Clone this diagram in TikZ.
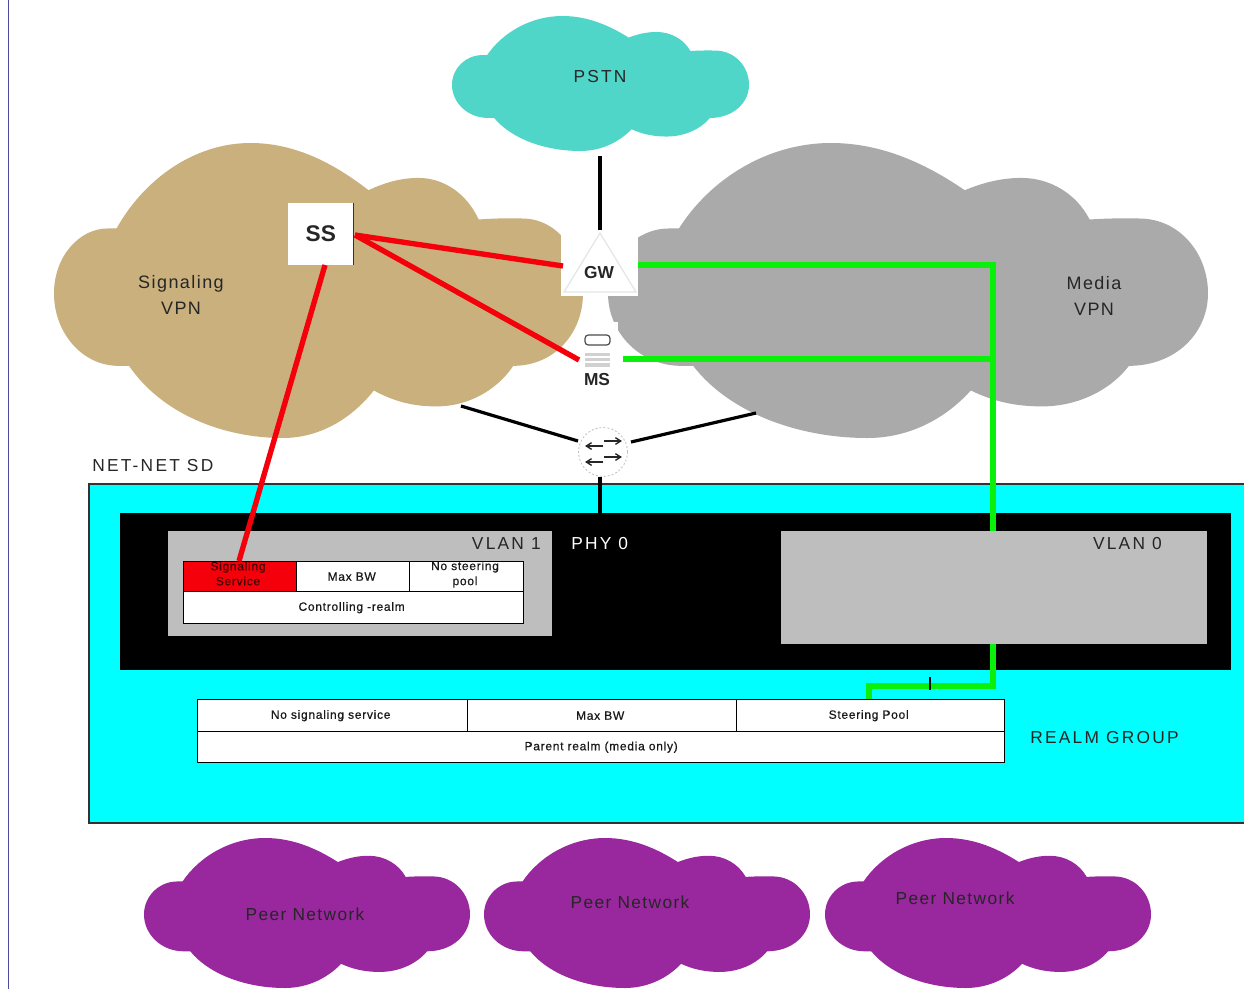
\documentclass[tikz,border=0pt]{standalone}
\usepackage{fontspec}
\usetikzlibrary{arrows.meta}
\setmainfont{Liberation Sans}
\newfontfamily\spacedf[LetterSpace=13]{Liberation Sans}
\newfontfamily\peerf[LetterSpace=8]{Liberation Sans}
\newfontfamily\tinyf[LetterSpace=6,FakeBold=0.6]{Liberation Sans}
\definecolor{pstnc}{RGB}{80,214,200}
\definecolor{sigc}{RGB}{201,176,125}
\definecolor{medc}{RGB}{170,170,170}
\definecolor{peerc}{RGB}{153,40,158}
\definecolor{cyanc}{RGB}{0,255,255}
\definecolor{vlanc}{RGB}{190,190,190}
\definecolor{greenc}{RGB}{10,240,10}
\definecolor{redc}{RGB}{245,0,10}
\definecolor{edgeb}{RGB}{30,30,210}
\tikzset{
  bigl/.style={font=\spacedf\fontsize{13}{19}\selectfont,text=black!85,align=center,inner sep=0pt},
  peerl/.style={font=\peerf\fontsize{13}{16}\selectfont,text=black!85,align=center,inner sep=0pt},
  tinyl/.style={font=\tinyf\fontsize{9}{11.3}\selectfont,text=black!90,align=center,inner sep=0pt},
  devl/.style={font=\bfseries\fontsize{13}{15}\selectfont,text=black!85,inner sep=0pt},
  cellb/.style={draw=black,line width=1pt,inner sep=0pt},
  redl/.style={draw=redc,line width=4pt},
  greenl/.style={draw=greenc,line width=3.8pt},
  blackl/.style={draw=black,line width=2.4pt},
}
% cloud outline: #1 colour, #2 left, #3 top, #4 width, #5 height
\newcommand{\cloudshape}[5]{%
  \begin{scope}[shift={(#2,#3)},xscale=#4/1480,yscale=#5/887,shift={(-40,-38)}]
  \fill[#1] (215,295) .. controls (290,150) and (430,38) .. (590,38)
    .. controls (720,38) and (830,105) .. (920,180)
    .. controls (975,152) and (1020,143) .. (1060,143)
    .. controls (1130,143) and (1195,190) .. (1228,268)
    .. controls (1280,264) and (1320,264) .. (1350,265)
    .. controls (1450,265) and (1520,370) .. (1520,490)
    .. controls (1520,610) and (1440,708) .. (1325,708)
    .. controls (1280,780) and (1200,830) .. (1110,830)
    .. controls (1045,830) and (990,815) .. (935,782)
    .. controls (870,870) and (780,925) .. (680,925)
    .. controls (510,925) and (340,850) .. (250,708)
    -- (220,708) .. controls (120,708) and (40,610) .. (40,490)
    .. controls (40,380) and (110,295) .. (190,295) -- cycle;
  \end{scope}}
\begin{document}
\begin{tikzpicture}[x=0.75pt,y=-0.75pt]
\useasboundingbox (0,0) rectangle (1244,989);
\fill[white] (0,0) rectangle (1244,989);
\draw[draw=blue!45!black!70,line width=0.6pt] (8,0) -- (8,989);

% Clouds
\cloudshape{pstnc}{452}{16}{297}{135}
\cloudshape{sigc}{54}{143}{529}{295}
\cloudshape{medc}{608}{143}{600}{295}
\cloudshape{peerc}{144}{838}{326}{150}
\cloudshape{peerc}{484}{838}{326}{150}
\cloudshape{peerc}{825}{838}{326}{150}

% cut-outs round the devices
\fill[white] (561,232) rectangle (638,296);
\fill[white] (600,322) rectangle (618,372);

% NET-NET block
\fill[cyanc] (89,484) rectangle (1244,823);
\draw[black!80,line width=0.8pt] (1244,484) -- (89,484) -- (89,823) -- (1244,823);
\fill[black] (120,513) rectangle (1231,670);
\fill[vlanc] (168,531) rectangle (552,636);
\fill[vlanc] (781,531) rectangle (1207,644);

\node[bigl,anchor=west] (netnet) at (92,466) {NET-NET SD};
\node[bigl,anchor=east] (vlan1) at (541,544) {VLAN 1};
\node[bigl,text=white,anchor=west] (phy0) at (571,544) {PHY 0};
\node[bigl,anchor=east] (vlan0) at (1162,544) {VLAN 0};
\node[bigl,anchor=west] (realmgroup) at (1030,738) {REALM GROUP};

% VLAN 1 table
\node[cellb,fill=redc,minimum width=113*0.75pt,minimum height=30*0.75pt,anchor=north west] (sigsvc) at (183,561) {};
\node[tinyl,text=black!75!red] (sigsvct) at (238,573.5) {Signaling\\Service};
\node[cellb,fill=white,minimum width=114*0.75pt,minimum height=30*0.75pt,anchor=north west,tinyl] (maxbw1) at (296,561) {\kern-3pt Max BW};
\node[cellb,fill=white,minimum width=114*0.75pt,minimum height=30*0.75pt,anchor=north west] (nosteer) at (409,561) {};
\node[tinyl] (nosteert) at (465,574.5) {No steering\\pool};
\node[cellb,fill=white,minimum width=340*0.75pt,minimum height=32*0.75pt,anchor=north west,tinyl] (ctrl) at (183,591) {\kern-3pt Controlling -realm};

% Realm group table
\node[cellb,fill=white,minimum width=270*0.75pt,minimum height=32*0.75pt,anchor=north west,tinyl] (nosig) at (197,699) {\kern-3pt No signaling service};
\node[cellb,fill=white,minimum width=269*0.75pt,minimum height=32*0.75pt,anchor=north west,tinyl] (maxbw2) at (467,699) {\kern-3pt Max BW};
\node[cellb,fill=white,minimum width=268*0.75pt,minimum height=32*0.75pt,anchor=north west,tinyl] (steerp) at (736,699) {\kern-3pt Steering Pool};
\node[cellb,fill=white,minimum width=807*0.75pt,minimum height=31*0.75pt,anchor=north west,tinyl] (parent) at (197,731) {Parent realm (media only)};

% Devices
\node[fill=white,minimum width=65*0.75pt,minimum height=62*0.75pt,inner sep=0pt,anchor=north west,devl,font=\bfseries\fontsize{17}{20}\selectfont] (ss) at (288,202.5) {SS};
\draw[edgeb,line width=1.4pt] (ss.north east) -- (ss.south east);

\draw[black!10,line width=0.9pt,fill=white] (600,233) -- (636,292) -- (564,292) -- cycle;
\node[devl] (gw) at (599,273) {GW};

\draw[black!70,line width=0.9pt,rounded corners=2.5pt] (585,335) rectangle (610,345);
\fill[black!18] (585,353) rectangle (610,356);
\fill[black!18] (585,358) rectangle (610,361);
\fill[black!18] (585,363) rectangle (610,367);
\node[devl] (ms) at (597,380) {MS};

\node[circle,draw=black!25,dash pattern=on 1.5pt off 1.5pt,fill=white,line width=0.6pt,minimum size=49*0.75pt,inner sep=0pt] (router) at (603,452) {};
\begin{scope}[black!85,line width=1pt]
\draw[-{Straight Barb[length=4pt,width=5pt]}] (604,441) -- (622,441);
\draw[-{Straight Barb[length=4pt,width=5pt]}] (603,446) -- (585,446);
\draw[-{Straight Barb[length=4pt,width=5pt]}] (604,457) -- (622,457);
\draw[-{Straight Barb[length=4pt,width=5pt]}] (603,462) -- (585,462);
\end{scope}

% Cloud labels
\node[bigl] (pstn) at (600,77) {PSTN};
\node[peerl,font=\peerf\fontsize{13.5}{19}\selectfont] (sigvpn) at (181,295) {Signaling\\VPN};
\node[peerl,font=\peerf\fontsize{13.5}{19}\selectfont] (medvpn) at (1094,296) {Media\\VPN};
\node[peerl] (peer1) at (305,914) {Peer Network};
\node[peerl] (peer2) at (630,902) {Peer Network};
\node[peerl] (peer3) at (955,898) {Peer Network};

% Connector end points
\coordinate (pstnb) at (600,156);
\coordinate (gwtop) at (600,230);
\coordinate (ssr) at (355,235);
\coordinate (ssb) at (325,265);
\coordinate (gwl) at (563,266);
\coordinate (msl) at (579,360);
\coordinate (sigin) at (239,561);
\coordinate (gwr) at (638,265);
\coordinate (msr) at (623,359);
\coordinate (corner) at (993,265);
\coordinate (junction) at (993,359);
\coordinate (vlantop) at (993,531);
\coordinate (vlanbot) at (993,644);
\coordinate (steerbend) at (993,686);
\coordinate (steerknee) at (869,686);
\coordinate (steertop) at (869,699);
\coordinate (sigcl) at (461,406);
\coordinate (routl) at (578,441);
\coordinate (medcl) at (756,413);
\coordinate (routr) at (631,442);
\coordinate (routb) at (600,477);
\coordinate (phytop) at (600,513);
\coordinate (tickt) at (930,677);
\coordinate (tickb) at (930,690);

% Connectors
\draw[blackl,line width=2.8pt] (pstnb) -- (gwtop);
\draw[blackl] (sigcl) -- (routl);
\draw[blackl] (medcl) -- (routr);
\draw[black,line width=2.4pt] (routb) -- (phytop);
\draw[redl] (ssr) -- (gwl);
\draw[redl] (ssr) -- (msl);
\draw[redl] (ssb) -- (sigin);
\draw[greenl] (gwr) -- (corner) -- (vlantop);
\draw[greenl] (msr) -- (junction);
\draw[greenl] (vlanbot) -- (steerbend) -- (steerknee) -- (steertop);
\draw[black,line width=1pt] (tickt) -- (tickb);
\end{tikzpicture}
\end{document}
